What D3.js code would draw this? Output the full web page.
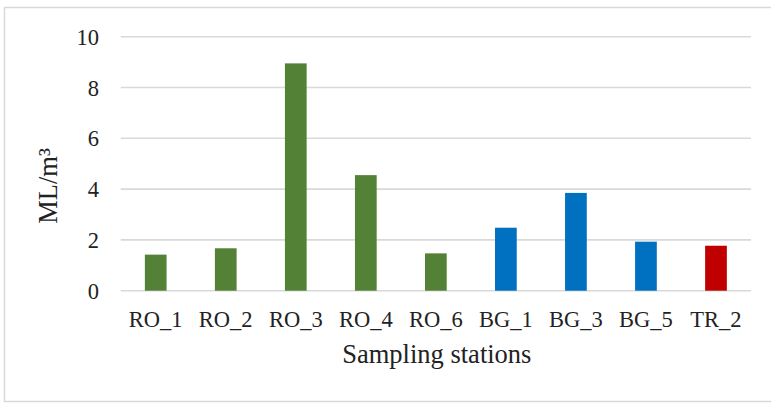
<!DOCTYPE html>
<html>
<head>
  <meta charset="UTF-8">
  <title></title>
  <style>
    body { margin: 0; background: #fff; }
    svg text { fill: #222; font-family: "Liberation Serif", "Times New Roman", Times, "DejaVu Serif", serif; }
    .grid line { stroke: #d9d9d9; stroke-width: 1.6; }
  </style>
</head>
<body>
  <script src="https://cdnjs.cloudflare.com/ajax/libs/d3/7.8.5/d3.min.js"></script>
  <script>
// data
var stations = ["RO_1", "RO_2", "RO_3", "RO_4", "RO_6", "BG_1", "BG_3", "BG_5", "TR_2"];
var values = [1.42, 1.67, 8.95, 4.55, 1.47, 2.48, 3.85, 1.93, 1.77];
var groups = ["RO", "RO", "RO", "RO", "RO", "BG", "BG", "BG", "TR"];
var yTicks = [0, 2, 4, 6, 8, 10];

var colors = { RO: "#538135", BG: "#0070c0", TR: "#c00000" };

var width = 771, height = 403;
var margin = { top: 36.7, right: 20, bottom: 112.3, left: 120.7 };
var w = width - margin.left - margin.right,
    h = height - margin.top - margin.bottom;

var svg = d3.select("body").append("svg")
    .attr("width", width)
    .attr("height", height);

// chart area border
svg.append("rect")
    .attr("x", 4.5).attr("y", 7.5)
    .attr("width", width + 10).attr("height", 394)
    .attr("fill", "none")
    .attr("stroke", "#d9d9d9")
    .attr("stroke-width", 1.5);

var g = svg.append("g")
    .attr("transform", "translate(" + margin.left + "," + margin.top + ")");

var x = d3.scaleBand().domain(stations).range([0, w]).paddingInner(0.69).paddingOuter(0.345);
var y = d3.scaleLinear().domain([0, 10]).range([h, 0]);

// gridlines
g.append("g").attr("class", "grid")
  .selectAll("line")
  .data(yTicks)
  .enter().append("line")
    .attr("x1", 0).attr("x2", w)
    .attr("y1", function(d) { return y(d); })
    .attr("y2", function(d) { return y(d); });

// y tick labels
g.append("g")
  .selectAll("text")
  .data(yTicks)
  .enter().append("text")
    .attr("x", -21.7)
    .attr("y", function(d) { return y(d); })
    .attr("dy", "0.36em")
    .attr("text-anchor", "end")
    .style("font-size", "22.5px")
    .text(function(d) { return d; });

// bars
g.selectAll(".bar")
  .data(values)
  .enter().append("rect")
    .attr("class", "bar")
    .attr("x", function(d, i) { return x(stations[i]); })
    .attr("width", x.bandwidth())
    .attr("y", function(d) { return y(d); })
    .attr("height", function(d) { return h - y(d); })
    .attr("fill", function(d, i) { return colors[groups[i]]; });

// x labels
g.append("g")
  .selectAll("text")
  .data(stations)
  .enter().append("text")
    .attr("x", function(d) { return x(d) + x.bandwidth() / 2; })
    .attr("y", h + 36)
    .attr("text-anchor", "middle")
    .style("font-size", "22.5px")
    .text(function(d) { return d; });

// axis titles
svg.append("text")
    .attr("x", margin.left + w / 2 + 1)
    .attr("y", 363)
    .attr("text-anchor", "middle")
    .style("font-size", "26.5px")
    .text("Sampling stations");

svg.append("text")
    .attr("transform", "translate(56.5,186) rotate(-90)")
    .attr("text-anchor", "middle")
    .style("font-size", "26.5px")
    .text("ML/m³");
  </script>
</body>
</html>
